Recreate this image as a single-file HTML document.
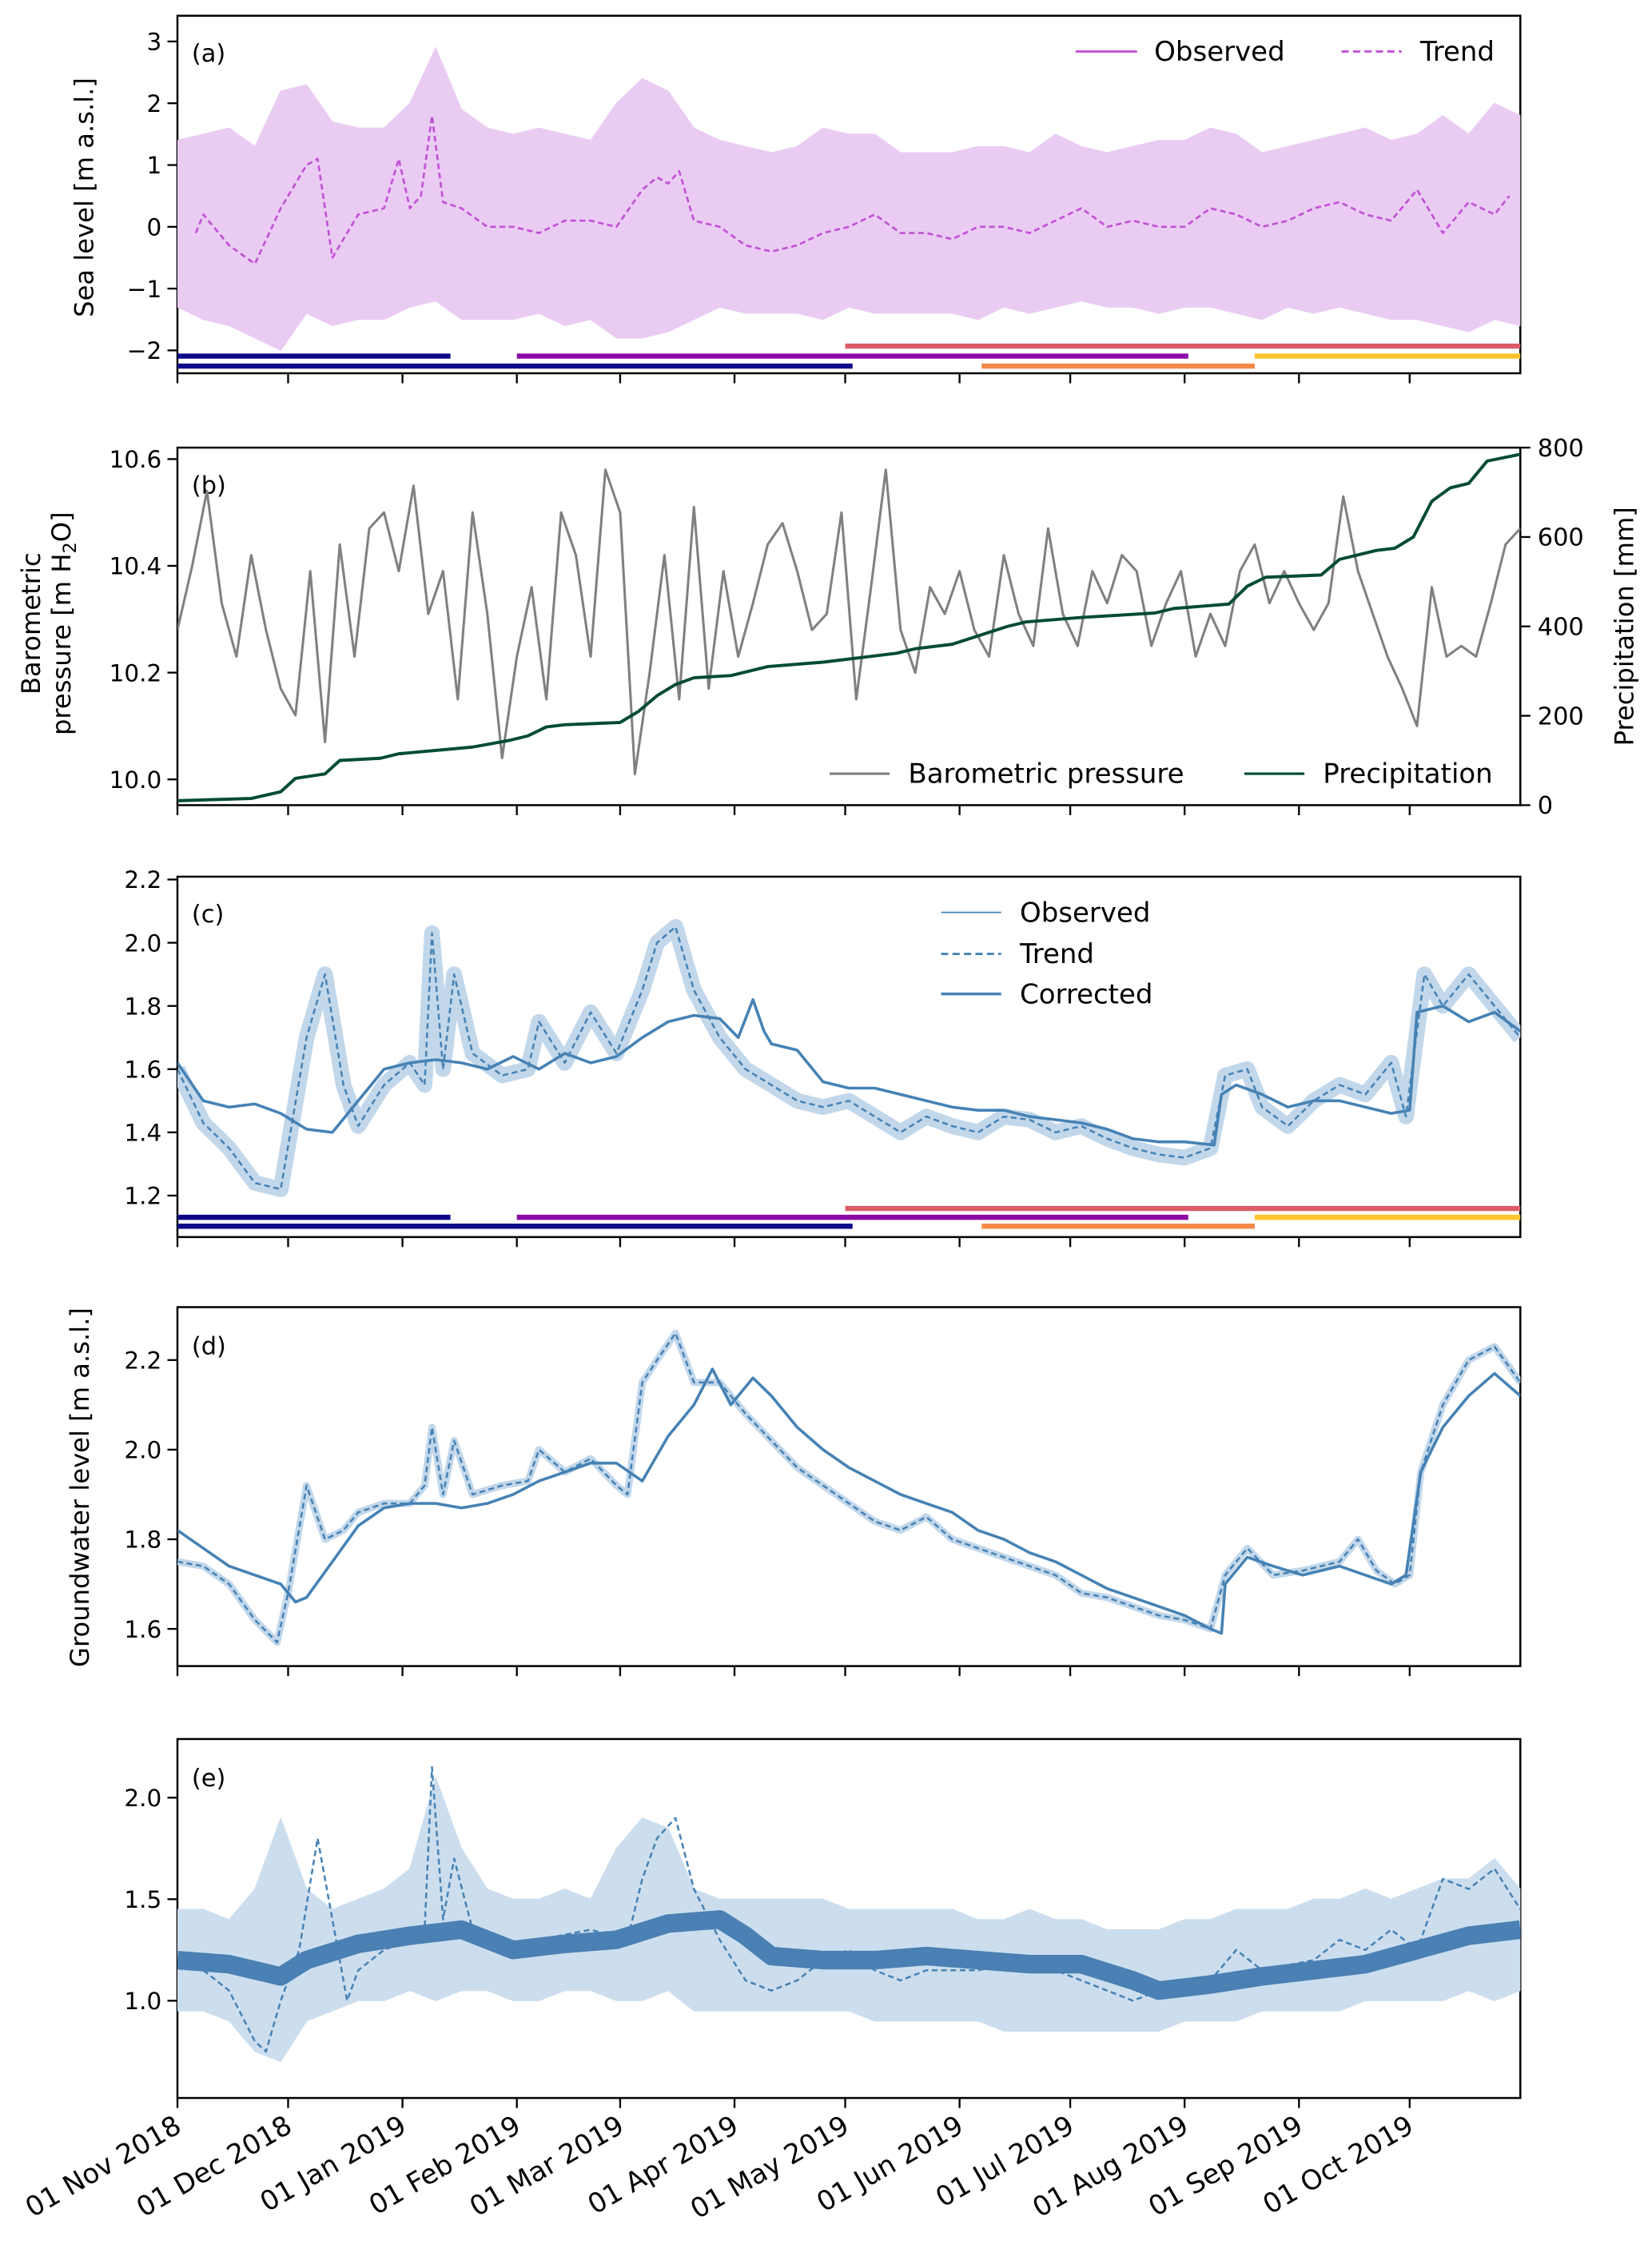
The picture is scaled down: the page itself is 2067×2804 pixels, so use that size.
<!DOCTYPE html>
<html><head><meta charset="utf-8">
<style>
html,body{margin:0;padding:0;background:#fff;}
svg{display:block;font-family:"DejaVu Sans","Liberation Sans",sans-serif;}
</style></head>
<body>
<svg id="fig" width="2067" height="2804" viewBox="0 0 1155 1567" xmlns="http://www.w3.org/2000/svg"></svg>
<script>
// ---- data (day index from 01 Nov 2018) ----
const monthLabels = ["01 Nov 2018","01 Dec 2018","01 Jan 2019","01 Feb 2019","01 Mar 2019","01 Apr 2019","01 May 2019","01 Jun 2019","01 Jul 2019","01 Aug 2019","01 Sep 2019","01 Oct 2019"];
const monthDays = [0,30,61,92,120,151,181,212,242,273,304,334];

const seaUp = [1.4,1.5,1.6,1.3,2.2,2.3,1.7,1.6,1.6,2.0,2.9,1.9,1.6,1.5,1.6,1.5,1.4,2.0,2.4,2.2,1.6,1.4,1.3,1.2,1.3,1.6,1.5,1.5,1.2,1.2,1.2,1.3,1.3,1.2,1.5,1.3,1.2,1.3,1.4,1.4,1.6,1.5,1.2,1.3,1.4,1.5,1.6,1.4,1.5,1.8,1.5,2.0,1.8];
const seaLo = [-1.3,-1.5,-1.6,-1.8,-2.0,-1.4,-1.6,-1.5,-1.5,-1.3,-1.2,-1.5,-1.5,-1.5,-1.4,-1.6,-1.5,-1.8,-1.8,-1.7,-1.5,-1.3,-1.4,-1.4,-1.4,-1.5,-1.3,-1.4,-1.4,-1.4,-1.4,-1.5,-1.3,-1.4,-1.3,-1.2,-1.3,-1.3,-1.4,-1.3,-1.3,-1.4,-1.5,-1.3,-1.4,-1.3,-1.4,-1.5,-1.5,-1.6,-1.7,-1.5,-1.6];
const seaTrendDays = [5,7,14,21,28,35,38,42,49,56,60,63,66,69,72,77,84,91,98,105,112,119,126,130,133,136,140,147,154,161,168,175,182,189,196,203,210,217,224,231,238,245,252,259,266,273,280,287,294,301,308,315,322,329,336,343,350,357,361];
const seaTrend = [-0.1,0.2,-0.3,-0.6,0.3,1.0,1.1,-0.5,0.2,0.3,1.1,0.3,0.5,1.8,0.4,0.3,0.0,0.0,-0.1,0.1,0.1,0.0,0.6,0.8,0.7,0.9,0.1,0.0,-0.3,-0.4,-0.3,-0.1,0.0,0.2,-0.1,-0.1,-0.2,0.0,0.0,-0.1,0.1,0.3,0.0,0.1,0.0,0.0,0.3,0.2,0.0,0.1,0.3,0.4,0.2,0.1,0.6,-0.1,0.4,0.2,0.5];

const pressDays = [0,4,8,12,16,20,24,28,32,36,40,44,48,52,56,60,64,68,72,76,80,84,88,92,96,100,104,108,112,116,120,124,128,132,136,140,144,148,152,156,160,164,168,172,176,180,184,188,192,196,200,204,208,212,216,220,224,228,232,236,240,244,248,252,256,260,264,268,272,276,280,284,288,292,296,300,304,308,312,316,320,324,328,332,336,340,344,348,352,356,360,364];
const pressure = [10.28,10.40,10.54,10.33,10.23,10.42,10.28,10.17,10.12,10.39,10.07,10.44,10.23,10.47,10.50,10.39,10.55,10.31,10.39,10.15,10.50,10.31,10.04,10.23,10.36,10.15,10.50,10.42,10.23,10.58,10.50,10.01,10.20,10.42,10.15,10.51,10.17,10.39,10.23,10.33,10.44,10.48,10.39,10.28,10.31,10.50,10.15,10.36,10.58,10.28,10.20,10.36,10.31,10.39,10.28,10.23,10.42,10.31,10.25,10.47,10.31,10.25,10.39,10.33,10.42,10.39,10.25,10.33,10.39,10.23,10.31,10.25,10.39,10.44,10.33,10.39,10.33,10.28,10.33,10.53,10.39,10.31,10.23,10.17,10.10,10.36,10.23,10.25,10.23,10.33,10.44,10.47];
const precipDays = [0,20,28,32,40,44,55,60,80,90,95,100,105,120,125,130,135,140,150,155,160,175,185,195,200,210,225,230,245,265,270,285,290,295,310,315,325,330,335,340,345,350,355,364];
const precip = [10,15,30,60,70,100,105,115,130,145,155,175,180,185,210,245,270,285,290,300,310,320,330,340,350,360,400,410,420,430,440,450,490,510,515,550,570,575,600,680,710,720,770,785];

const cCorrDays = [0,7,14,21,28,35,42,49,56,63,70,77,84,91,98,105,112,119,126,133,140,147,152,156,159,161,168,175,182,189,196,203,210,217,224,231,238,245,252,259,266,273,281,283,287,294,301,308,315,322,329,334,336,343,350,357,364];
const cCorr = [1.62,1.50,1.48,1.49,1.46,1.41,1.40,1.50,1.60,1.62,1.63,1.62,1.60,1.64,1.60,1.65,1.62,1.64,1.70,1.75,1.77,1.76,1.70,1.82,1.72,1.68,1.66,1.56,1.54,1.54,1.52,1.50,1.48,1.47,1.47,1.45,1.44,1.43,1.41,1.38,1.37,1.37,1.36,1.52,1.55,1.52,1.48,1.50,1.50,1.48,1.46,1.47,1.78,1.80,1.75,1.78,1.72];
const cTrendDays = [0,7,14,21,28,35,40,45,49,56,63,67,69,72,75,80,88,95,98,105,112,119,126,130,135,140,147,154,161,168,175,182,189,196,203,210,217,224,231,238,245,252,259,266,273,280,284,290,294,301,308,315,322,329,333,338,343,350,357,364];
const cTrend = [1.60,1.43,1.35,1.24,1.22,1.70,1.90,1.55,1.42,1.55,1.62,1.55,2.03,1.60,1.90,1.65,1.58,1.60,1.75,1.62,1.78,1.65,1.85,2.00,2.05,1.85,1.70,1.60,1.55,1.50,1.48,1.50,1.45,1.40,1.45,1.42,1.40,1.45,1.44,1.40,1.42,1.38,1.35,1.33,1.32,1.35,1.58,1.60,1.48,1.42,1.50,1.55,1.52,1.62,1.45,1.90,1.80,1.90,1.80,1.70];

const dCorrDays = [0,7,14,21,28,32,35,42,49,56,63,70,77,84,91,98,105,112,119,126,133,140,145,150,156,161,168,175,182,189,196,203,210,217,224,231,238,245,252,259,266,273,280,283,284,290,297,305,315,322,329,333,337,343,350,357,364];
const dCorr = [1.82,1.78,1.74,1.72,1.70,1.66,1.67,1.75,1.83,1.87,1.88,1.88,1.87,1.88,1.90,1.93,1.95,1.97,1.97,1.93,2.03,2.10,2.18,2.10,2.16,2.12,2.05,2.00,1.96,1.93,1.90,1.88,1.86,1.82,1.80,1.77,1.75,1.72,1.69,1.67,1.65,1.63,1.60,1.59,1.70,1.76,1.74,1.72,1.74,1.72,1.70,1.72,1.95,2.05,2.12,2.17,2.12];
const dTrendDays = [0,7,14,21,27,30,35,40,45,49,56,63,67,69,72,75,80,88,95,98,105,112,119,122,126,130,135,140,147,154,161,168,175,182,189,196,203,210,217,224,231,238,245,252,259,266,273,280,284,290,297,305,315,320,325,330,334,337,343,350,357,364];
const dTrend = [1.75,1.74,1.70,1.62,1.57,1.68,1.92,1.80,1.82,1.86,1.88,1.88,1.92,2.05,1.90,2.02,1.90,1.92,1.93,2.00,1.95,1.98,1.92,1.90,2.15,2.20,2.26,2.15,2.15,2.08,2.02,1.96,1.92,1.88,1.84,1.82,1.85,1.80,1.78,1.76,1.74,1.72,1.68,1.67,1.65,1.63,1.62,1.60,1.72,1.78,1.72,1.73,1.75,1.80,1.73,1.70,1.72,1.95,2.10,2.20,2.23,2.15];

const eUp = [1.45,1.45,1.40,1.55,1.9,1.55,1.45,1.5,1.55,1.65,2.1,1.75,1.55,1.5,1.5,1.55,1.5,1.75,1.9,1.85,1.55,1.5,1.5,1.5,1.5,1.5,1.45,1.45,1.45,1.45,1.45,1.4,1.4,1.45,1.4,1.4,1.35,1.35,1.35,1.4,1.4,1.45,1.45,1.45,1.5,1.5,1.55,1.5,1.55,1.6,1.6,1.7,1.55];
const eLo = [0.95,0.95,0.9,0.75,0.7,0.9,0.95,1.0,1.0,1.05,1.0,1.05,1.05,1.0,1.0,1.05,1.05,1.0,1.0,1.05,0.95,0.95,0.95,0.95,0.95,0.95,0.95,0.9,0.9,0.9,0.9,0.9,0.85,0.85,0.85,0.85,0.85,0.85,0.85,0.9,0.9,0.9,0.95,0.95,0.95,0.95,1.0,1.0,1.0,1.0,1.05,1.0,1.05];
const eCorrDays = [0,14,28,35,49,63,77,91,105,119,133,147,154,161,175,189,203,217,231,245,259,266,280,294,308,322,336,350,364];
const eCorr = [1.20,1.18,1.12,1.20,1.28,1.32,1.35,1.25,1.28,1.30,1.38,1.40,1.32,1.22,1.20,1.20,1.22,1.20,1.18,1.18,1.10,1.05,1.08,1.12,1.15,1.18,1.25,1.32,1.35];
const eTrendDays = [0,7,14,21,24,28,33,38,42,46,49,56,63,67,69,72,75,80,88,98,112,122,126,130,135,140,147,154,161,168,175,182,189,196,203,217,231,245,259,266,280,287,294,308,315,322,329,336,343,350,357,364];
const eTrend = [1.20,1.15,1.05,0.80,0.75,1.00,1.25,1.80,1.40,1.00,1.15,1.25,1.30,1.35,2.15,1.40,1.70,1.35,1.25,1.30,1.35,1.30,1.60,1.80,1.90,1.55,1.30,1.10,1.05,1.10,1.20,1.25,1.15,1.10,1.15,1.15,1.20,1.10,1.00,1.05,1.10,1.25,1.15,1.20,1.30,1.25,1.35,1.25,1.60,1.55,1.65,1.45];

// period bars
const periodStart = [0,0,92,181,218,292];
const periodEnd = [74,183,274,364,292,364];
const periodRow = [1,2,1,0,2,1];
const periodColor = ["#0d0887","#0d0887","#8b0aa5","#db5c68","#f48849","#fdc328"];

// ---- drawing ----
const NS = "http://www.w3.org/2000/svg";
const svg = document.getElementById("fig");
const X0 = 124, X1 = 1063, DSPAN = 364;
const TICKF = 15.5, LEGF = 19, TITLEF = 18, XLF = 19;
function xs(d){ return X0 + d*(X1-X0)/DSPAN; }
function mk(tag, attrs, parent){
  const el = document.createElementNS(NS, tag);
  for (const k in attrs) el.setAttribute(k, attrs[k]);
  (parent||svg).appendChild(el);
  return el;
}
function txt(s, x, y, size, anchor, parent, name){
  const t = mk("text", {x:x, y:y, "font-size":size, "text-anchor":anchor||"start", fill:"#000"}, parent);
  t.textContent = s;
  
  
  return t;
}
function pathFrom(days, vals, ys){
  let s = "";
  for (let i=0;i<vals.length;i++) s += (i?"L":"M") + xs(days[i]).toFixed(2) + "," + ys(vals[i]).toFixed(2);
  return s;
}
function weekly(n){ const a=[]; for(let i=0;i<n;i++) a.push(i*7); return a; }
function band(up, lo, ys, fill, name, g){
  const du = weekly(up.length), dl = weekly(lo.length);
  let s = pathFrom(du, up, ys);
  for (let i=lo.length-1;i>=0;i--) s += "L" + xs(dl[i]).toFixed(2) + "," + ys(lo[i]).toFixed(2);
  s += "Z";
  const p = mk("path", {d:s, fill:fill, stroke:fill, "stroke-width":0.6}, g);
  
  
  return p;
}
function line(days, vals, ys, color, w, dash, name, g){
  const p = mk("path", {d:pathFrom(days, vals, ys), fill:"none", stroke:color, "stroke-width":w, "stroke-linejoin":"round", "stroke-linecap":"butt"}, g);
  if (dash) p.setAttribute("stroke-dasharray", dash);
  
  
  return p;
}
function clipFor(id, top, bot){
  const defs = mk("defs", {});
  const cp = mk("clipPath", {id:id}, defs);
  mk("rect", {x:X0, y:top, width:X1-X0, height:bot-top}, cp);
  const g = mk("g", {"clip-path":"url(#"+id+")"});
  
  
  return g;
}
function frame(top, bot, name){
  const g = mk("g", {});
  
  
  mk("rect", {x:X0, y:top, width:X1-X0, height:bot-top, fill:"none", stroke:"#000", "stroke-width":1.4}, g);
  for (let i=0;i<monthDays.length;i++){
    const tk = mk("line", {x1:xs(monthDays[i]), x2:xs(monthDays[i]), y1:bot, y2:bot+7, stroke:"#000", "stroke-width":1.3}, g);
    
    
  }
  return g;
}
function yticks(vals, labels, ys, g, side){
  for (let i=0;i<vals.length;i++){
    const y = ys(vals[i]);
    if (side === "right"){
      mk("line", {x1:X1, x2:X1+7, y1:y, y2:y, stroke:"#000", "stroke-width":1.3}, g);
      txt(labels[i], X1+12, y+6, TICKF+1.5, "start", g, "y-tick-label-right");
    } else {
      mk("line", {x1:X0-7, x2:X0, y1:y, y2:y, stroke:"#000", "stroke-width":1.3}, g);
      txt(labels[i], X0-11, y+6, TICKF+1, "end", g, "y-tick-label");
    }
  }
}
function vlabel(s, x, y, g, name){
  const t = txt(s, 0, 0, TITLEF, "middle", g, name);
  t.setAttribute("transform", "translate("+x+","+y+") rotate(-90)");
  return t;
}
function periods(ys0, gap, g, name){
  for (let i=0;i<periodStart.length;i++){
    const y = ys0 + periodRow[i]*gap;
    const l = mk("line", {x1:xs(periodStart[i]), x2:xs(periodEnd[i]), y1:y, y2:y, stroke:periodColor[i], "stroke-width":3.6}, g);
    
    
  }
}
function legendEntry(g, x1, x2, y, color, w, dash, label, tx){
  const l = mk("line", {x1:x1, x2:x2, y1:y, y2:y, stroke:color, "stroke-width":w}, g);
  if (dash) l.setAttribute("stroke-dasharray", dash);
  
  
  txt(label, tx, y+6.5, LEGF, "start", g, "legend-label");
}

// Panel (a)
const yA = v => 29 + (3 - v)*43.2;
const gA = frame(11, 261, "panel-a");
const pA = clipFor("clip-a", 11, 261);
band(seaUp, seaLo, yA, "#eaccf3", "sea-level-observed", pA);
line(seaTrendDays, seaTrend, yA, "#c252d6", 1.5, "4,2.5", "sea-level-trend", pA);
periods(242, 7, pA, "period-bar-a");
yticks([3,2,1,0,-1,-2], ["3","2","1","0","\u22121","\u22122"], yA, gA);
txt("(a)", 134, 43, 17, "start", gA, "panel-label-a");
vlabel("Sea level [m a.s.l.]", 65, 138, gA, "y-axis-title-a");
const lgA = mk("g", {});  
legendEntry(lgA, 752, 795, 36, "#c252d6", 1.6, null, "Observed", 807);
legendEntry(lgA, 938, 980, 36, "#c252d6", 1.6, "5,3", "Trend", 993);

// Panel (b)
const yB = v => 321 + (10.6 - v)*373.3;
const yP = v => 563 - v*250/800;
const gB = frame(313, 563, "panel-b");
const pB = clipFor("clip-b", 313, 563);
line(pressDays, pressure, yB, "#808080", 1.7, null, "barometric-pressure-line", pB);
line(precipDays, precip, yP, "#004b35", 2.2, null, "precipitation-line", pB);
yticks([10.0,10.2,10.4,10.6], ["10.0","10.2","10.4","10.6"], yB, gB);
yticks([0,200,400,600,800], ["0","200","400","600","800"], yP, gB, "right");
txt("(b)", 134, 345, 17, "start", gB, "panel-label-b");
vlabel("Barometric", 28, 436, gB, "y-axis-title-b-line1");
const t2 = txt("", 0, 0, TITLEF, "middle", gB, "y-axis-title-b-line2");
t2.setAttribute("transform", "translate(49,436) rotate(-90)");
t2.innerHTML = 'pressure [m H<tspan font-size="12.5" dy="4">2</tspan><tspan dy="-4">O]</tspan>';
vlabel("Precipitation [mm]", 1142, 438, gB, "y-axis-title-b-right");
const lgB = mk("g", {});  
legendEntry(lgB, 580, 622, 541, "#808080", 1.8, null, "Barometric pressure", 635);
legendEntry(lgB, 870, 912, 541, "#004b35", 1.8, null, "Precipitation", 925);

// Panel (c)
const yC = v => 615 + (2.2 - v)*221;
const gC = frame(613, 865, "panel-c");
const pC = clipFor("clip-c", 613, 865);
line(cTrendDays, cTrend, yC, "#c2d7ea", 11, null, "groundwater-c-observed", pC);
line(cTrendDays, cTrend, yC, "#4682b4", 1.4, "4,2.5", "groundwater-c-trend", pC);
line(cCorrDays, cCorr, yC, "#4682b4", 2.0, null, "groundwater-c-corrected", pC);
periods(845, 6.2, pC, "period-bar-c");
yticks([1.2,1.4,1.6,1.8,2.0,2.2], ["1.2","1.4","1.6","1.8","2.0","2.2"], yC, gC);
txt("(c)", 134, 645, 17, "start", gC, "panel-label-c");
const lgC = mk("g", {});  
legendEntry(lgC, 658, 700, 638, "#4682b4", 1.0, null, "Observed", 713);
legendEntry(lgC, 658, 700, 667, "#4682b4", 1.6, "5,3", "Trend", 713);
legendEntry(lgC, 658, 700, 695, "#4682b4", 2.0, null, "Corrected", 713);

// Panel (d)
const yD = v => 951 + (2.2 - v)*313.3;
const gD = frame(914, 1165, "panel-d");
const pD = clipFor("clip-d", 914, 1165);
line(dTrendDays, dTrend, yD, "#c2d7ea", 5, null, "groundwater-d-observed", pD);
line(dTrendDays, dTrend, yD, "#4682b4", 1.4, "4,2.5", "groundwater-d-trend", pD);
line(dCorrDays, dCorr, yD, "#4682b4", 2.0, null, "groundwater-d-corrected", pD);
yticks([1.6,1.8,2.0,2.2], ["1.6","1.8","2.0","2.2"], yD, gD);
txt("(d)", 134, 947, 17, "start", gD, "panel-label-d");
vlabel("Groundwater level [m a.s.l.]", 62, 1040, gD, "y-axis-title-d");

// Panel (e)
const yE = v => 1257 + (2.0 - v)*142;
const gE = frame(1216, 1467, "panel-e");
const pE = clipFor("clip-e", 1216, 1467);
band(eUp, eLo, yE, "#ccdeee", "groundwater-e-observed", pE);
line(eTrendDays, eTrend, yE, "#4682b4", 1.4, "4,2.5", "groundwater-e-trend", pE);
line(eCorrDays, eCorr, yE, "#4a80b3", 13, null, "groundwater-e-corrected", pE);
yticks([1.0,1.5,2.0], ["1.0","1.5","2.0"], yE, gE);
txt("(e)", 134, 1249, 17, "start", gE, "panel-label-e");

// x tick labels
const gX = mk("g", {});  
for (let i=0;i<monthDays.length;i++){
  const t = txt(monthLabels[i], 0, 0, XLF, "end", gX, "x-tick-label");
  t.setAttribute("transform", "translate(" + (xs(monthDays[i])+4) + ",1490) rotate(-30)");
}
</script>
</body></html>
